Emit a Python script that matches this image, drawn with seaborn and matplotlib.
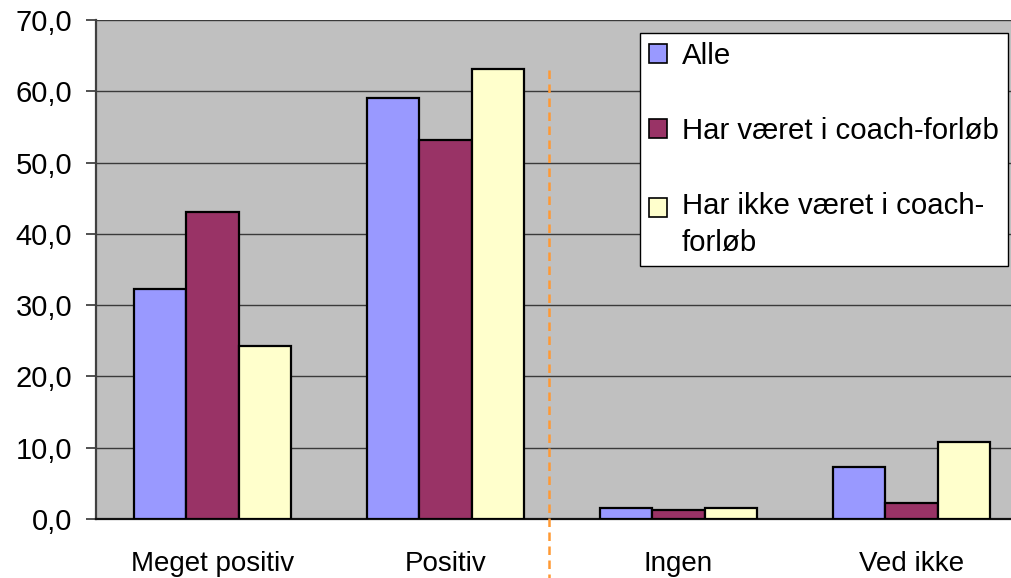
import matplotlib
matplotlib.use("Agg")
import matplotlib.pyplot as plt
from matplotlib.patches import Patch, Rectangle
from matplotlib.legend_handler import HandlerPatch
from matplotlib.ticker import FixedLocator, FuncFormatter
import seaborn as sns
import pandas as pd

categories = ["Meget positiv", "Positiv", "Ingen", "Ved ikke"]
series = ["Alle", "Har været i coach-forløb", "Har ikke været i coach-\nforløb"]
alle = [32.2, 59.1, 1.6, 7.3]
coach = [43.0, 53.2, 1.3, 2.3]
ikke_coach = [24.3, 63.1, 1.6, 10.8]
colors = ["#9999FF", "#993366", "#FFFFCC"]
y_ticks = [0, 10, 20, 30, 40, 50, 60, 70]

rows = []
for name, vals in zip(series, [alle, coach, ikke_coach]):
    for cat, v in zip(categories, vals):
        rows.append({"kategori": cat, "gruppe": name, "andel": v})
df = pd.DataFrame(rows)

sns.set_style("white")
plt.rcParams["font.family"] = ["Liberation Sans", "DejaVu Sans"]
plt.rcParams["text.color"] = "black"
plt.rcParams["xtick.labelcolor"] = "black"
plt.rcParams["ytick.labelcolor"] = "black"

fig = plt.figure(figsize=(10.12, 5.78), dpi=100)
ax = fig.add_axes([96 / 1012, 1 - 519 / 578, 932 / 1012, 499 / 578])
ax.set_facecolor("#C0C0C0")

sns.barplot(data=df, x="kategori", y="andel", hue="gruppe", order=categories,
            hue_order=series, palette=colors, width=0.675, edgecolor="black",
            linewidth=1.6, saturation=1, ax=ax, legend=False, zorder=3)

ax.set_xlim(-0.5, 3.5)
ax.set_ylim(0, 70)
ax.set_xlabel("")
ax.set_ylabel("")

# horizontal gridlines
ax.yaxis.set_major_locator(FixedLocator(y_ticks))
ax.yaxis.set_major_formatter(FuncFormatter(lambda v, p: f"{v:.1f}".replace(".", ",")))
ax.grid(axis="y", color="#3a3a3a", linewidth=1.0, zorder=0)
ax.set_axisbelow(True)

# category labels centred, tick marks on category boundaries
ax.set_xticks(range(len(categories)))
ax.set_xticklabels(categories)
ax.set_xticks([-0.5, 0.5, 1.5, 2.5], minor=True)
ax.tick_params(axis="x", which="major", length=0, labelsize=20, pad=23)
ax.tick_params(axis="x", which="minor", length=7, width=1.2, color="#333333", direction="out")
ax.tick_params(axis="y", length=7.2, width=1.2, color="#333333", labelsize=21, pad=10, left=True)

for s in ["top", "right"]:
    ax.spines[s].set_visible(False)
ax.spines["left"].set_color("#404040")
ax.spines["left"].set_linewidth(1.6)
ax.spines["bottom"].set_color("#111111")
ax.spines["bottom"].set_linewidth(1.6)

# orange divider between the positive answers and the rest
ax.plot([1.446, 1.446], [63.0, -8.6], color="#FF9933", linewidth=1.8,
        linestyle=(0, (3.4, 2.2)), clip_on=False, zorder=4)


def first_line_square(legend, orig_handle, xdescent, ydescent, width, height, fontsize):
    # keep the swatch level with the first line of a two-line label
    return Rectangle((-xdescent, -ydescent + 0.6 * fontsize), width, height)


handles = [Patch(facecolor=c, edgecolor="black", linewidth=1.2) for c in colors]
handler_map = {handles[2]: HandlerPatch(patch_func=first_line_square)}
leg = fig.legend(handles, series, loc="upper left", handler_map=handler_map,
                 bbox_to_anchor=(640 / 1012, 1 - 33 / 578), fontsize=21.2,
                 frameon=True, fancybox=False, framealpha=1, edgecolor="black",
                 handlelength=0.62, handleheight=0.62, handletextpad=0.5,
                 labelspacing=1.6, borderpad=0.3, borderaxespad=0)
leg.get_frame().set_linewidth(1.0)
for t in leg.get_texts():
    t.set_linespacing(1.4)

fig.savefig("out.png", dpi=100)
